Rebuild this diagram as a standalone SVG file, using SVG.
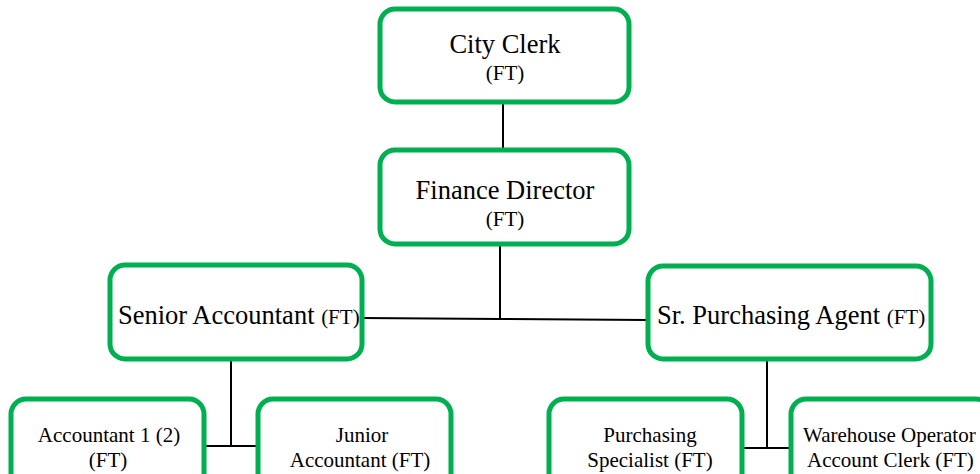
<svg xmlns="http://www.w3.org/2000/svg" width="980" height="474" viewBox="0 0 980 474">
  <style>
    .box { fill: #ffffff; stroke: #00B050; stroke-width: 5; }
    .link { stroke: #000000; stroke-width: 2; fill: none; }
    text { font-family: "Liberation Serif", "Times New Roman", serif; fill: #000000; }
    .big { font-size: 26.5px; }
    .mid { font-size: 21px; }
    .small { font-size: 21px; }
  </style>
  <rect width="980" height="474" fill="#ffffff"/>

  <g id="connectors">
    <line class="link" x1="503" y1="102" x2="503" y2="149"/>
    <line class="link" x1="500" y1="245" x2="500" y2="319"/>
    <polyline class="link" points="362,318 500,319 647,320"/>
    <line class="link" x1="231" y1="360" x2="231" y2="446"/>
    <line class="link" x1="205" y1="446" x2="257" y2="446"/>
    <line class="link" x1="767" y1="360" x2="767" y2="448"/>
    <line class="link" x1="743" y1="448" x2="790" y2="448"/>
  </g>

  <g id="city-clerk">
    <rect class="box" x="380" y="9" width="249" height="93" rx="15"/>
    <text class="big" x="505" y="53" text-anchor="middle">City Clerk</text>
    <text class="mid" x="505" y="80" text-anchor="middle">(FT)</text>
  </g>

  <g id="finance-director">
    <rect class="box" x="380" y="150" width="249" height="94" rx="15"/>
    <text class="big" x="505" y="199" text-anchor="middle">Finance Director</text>
    <text class="mid" x="505" y="226" text-anchor="middle">(FT)</text>
  </g>

  <g id="senior-accountant">
    <rect class="box" x="110" y="265" width="252" height="94" rx="15"/>
    <text x="118" y="324"><tspan class="big">Senior Accountant </tspan><tspan class="mid">(FT)</tspan></text>
  </g>

  <g id="sr-purchasing-agent">
    <rect class="box" x="648" y="266" width="283" height="93" rx="15"/>
    <text x="657" y="324"><tspan class="big">Sr. Purchasing Agent </tspan><tspan class="mid">(FT)</tspan></text>
  </g>

  <g id="accountant-1">
    <rect class="box" x="11" y="399" width="193" height="95" rx="15"/>
    <text class="small" x="109" y="442" text-anchor="middle">Accountant 1 (2)</text>
    <text class="small" x="108" y="467" text-anchor="middle">(FT)</text>
  </g>

  <g id="junior-accountant">
    <rect class="box" x="258" y="399" width="193" height="95" rx="15"/>
    <text class="small" x="362" y="442" text-anchor="middle">Junior</text>
    <text class="small" x="360" y="467" text-anchor="middle">Accountant (FT)</text>
  </g>

  <g id="purchasing-specialist">
    <rect class="box" x="549" y="399" width="193" height="95" rx="15"/>
    <text class="small" x="650" y="442" text-anchor="middle">Purchasing</text>
    <text class="small" x="650" y="467" text-anchor="middle">Specialist (FT)</text>
  </g>

  <g id="warehouse-operator">
    <rect class="box" x="791" y="399" width="200" height="95" rx="15"/>
    <text class="small" x="803" y="442">Warehouse Operator</text>
    <text class="small" x="807" y="467">Account Clerk (FT)</text>
  </g>
</svg>
